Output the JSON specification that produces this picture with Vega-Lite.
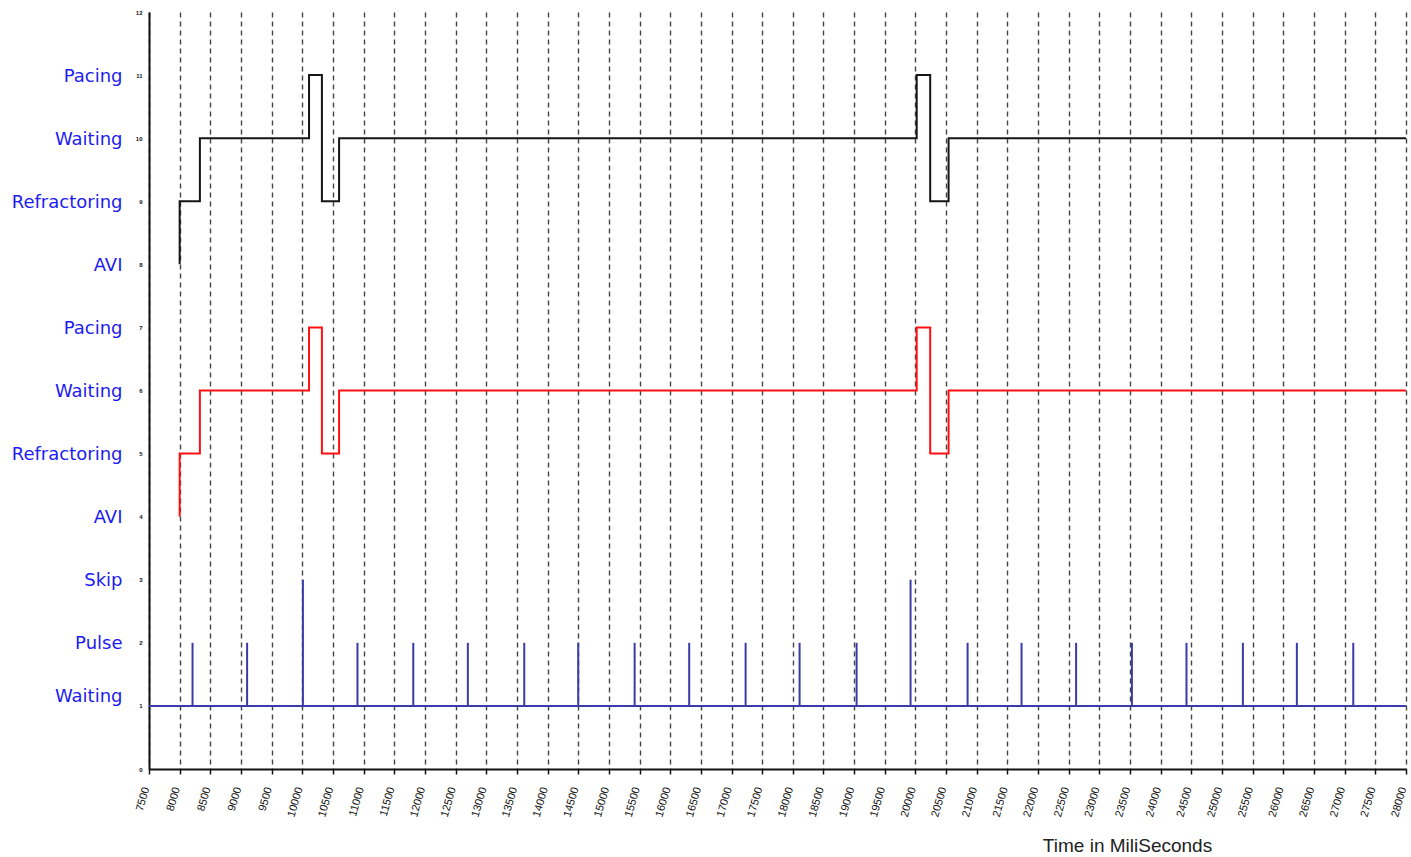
{
  "$schema": "https://vega.github.io/schema/vega-lite/v6.json",
  "autosize": {"type": "none"},
  "padding": {"left": 149, "top": 12, "right": 5, "bottom": 88},
  "width": 1257,
  "height": 757,
  "background": "white",
  "config": {
    "view": {"stroke": null},
    "axis": {"labelFont": "Liberation Sans", "titleFont": "Liberation Sans"}
  },
  "datasets": {
    "states": [
      {"trace": "upper", "i": 0, "t": 8000, "v": 8},
      {"trace": "upper", "i": 1, "t": 8000, "v": 9},
      {"trace": "upper", "i": 2, "t": 8330, "v": 10},
      {"trace": "upper", "i": 3, "t": 10110, "v": 11},
      {"trace": "upper", "i": 4, "t": 10320, "v": 9},
      {"trace": "upper", "i": 5, "t": 10600, "v": 10},
      {"trace": "upper", "i": 6, "t": 20020, "v": 11},
      {"trace": "upper", "i": 7, "t": 20240, "v": 9},
      {"trace": "upper", "i": 8, "t": 20540, "v": 10},
      {"trace": "upper", "i": 9, "t": 28000, "v": 10},
      {"trace": "lower", "i": 0, "t": 8000, "v": 4},
      {"trace": "lower", "i": 1, "t": 8000, "v": 5},
      {"trace": "lower", "i": 2, "t": 8330, "v": 6},
      {"trace": "lower", "i": 3, "t": 10110, "v": 7},
      {"trace": "lower", "i": 4, "t": 10320, "v": 5},
      {"trace": "lower", "i": 5, "t": 10600, "v": 6},
      {"trace": "lower", "i": 6, "t": 20020, "v": 7},
      {"trace": "lower", "i": 7, "t": 20240, "v": 5},
      {"trace": "lower", "i": 8, "t": 20540, "v": 6},
      {"trace": "lower", "i": 9, "t": 28000, "v": 6}
    ],
    "baseline": [
      {"t": 7500, "t2": 28000, "v": 1}
    ],
    "pulses": [
      {"t": 8210, "v": 2},
      {"t": 9100, "v": 2},
      {"t": 10010, "v": 3},
      {"t": 10900, "v": 2},
      {"t": 11810, "v": 2},
      {"t": 12700, "v": 2},
      {"t": 13620, "v": 2},
      {"t": 14500, "v": 2},
      {"t": 15420, "v": 2},
      {"t": 16310, "v": 2},
      {"t": 17230, "v": 2},
      {"t": 18110, "v": 2},
      {"t": 19040, "v": 2},
      {"t": 19920, "v": 3},
      {"t": 20850, "v": 2},
      {"t": 21730, "v": 2},
      {"t": 22620, "v": 2},
      {"t": 23530, "v": 2},
      {"t": 24420, "v": 2},
      {"t": 25340, "v": 2},
      {"t": 26220, "v": 2},
      {"t": 27140, "v": 2}
    ]
  },
  "encoding": {
    "x": {
      "field": "t",
      "type": "quantitative",
      "scale": {"domain": [7500, 28000], "nice": false, "zero": false},
      "axis": {
        "orient": "bottom",
        "values": [7500, 8000, 8500, 9000, 9500, 10000, 10500, 11000, 11500, 12000, 12500, 13000, 13500, 14000, 14500, 15000, 15500, 16000, 16500, 17000, 17500, 18000, 18500, 19000, 19500, 20000, 20500, 21000, 21500, 22000, 22500, 23000, 23500, 24000, 24500, 25000, 25500, 26000, 26500, 27000, 27500, 28000],
        "format": "d",
        "labelAngle": -74,
        "labelAlign": "right",
        "labelBaseline": "middle",
        "labelFontSize": 11,
        "labelColor": "#111111",
        "labelPadding": 13,
        "labelOffset": -3,
        "labelOverlap": false,
        "labelFlush": false,
        "domainColor": "#111111",
        "domainWidth": 2,
        "tickColor": "#111111",
        "tickSize": 5,
        "tickWidth": 1.5,
        "grid": true,
        "gridColor": "#444444",
        "gridDash": [5, 4],
        "gridWidth": 1.4,
        "gridOpacity": 1,
        "title": "Time in MiliSeconds",
        "titleFontSize": 19,
        "titleFontWeight": "normal",
        "titleColor": "#222222",
        "titleBaseline": "middle",
        "titleAlign": "center",
        "titleX": 978,
        "titleY": 76
      }
    }
  },
  "layer": [
    {
      "data": {"name": "states"},
      "transform": [{"filter": "datum.trace === 'upper'"}],
      "mark": {"type": "line", "interpolate": "step-after", "color": "#151515", "strokeWidth": 2},
      "encoding": {
        "order": {"field": "i", "type": "quantitative"},
        "y": {
          "field": "v",
          "type": "quantitative",
          "scale": {"domain": [0, 12], "nice": false},
          "axis": {
            "orient": "left",
            "values": [0, 1, 2, 3, 4, 5, 6, 7, 8, 9, 10, 11, 12],
            "format": "d",
            "labelFontSize": 6,
            "labelFontWeight": "bold",
            "labelColor": "#111111",
            "labelPadding": 7,
            "ticks": false,
            "tickSize": 0,
            "domainColor": "#111111",
            "domainWidth": 2,
            "grid": false,
            "title": null
          }
        }
      }
    },
    {
      "data": {"name": "states"},
      "transform": [{"filter": "datum.trace === 'lower'"}],
      "mark": {"type": "line", "interpolate": "step-after", "color": "#ff1010", "strokeWidth": 2},
      "encoding": {
        "order": {"field": "i", "type": "quantitative"},
        "y": {"field": "v", "type": "quantitative", "axis": null}
      }
    },
    {
      "data": {"name": "baseline"},
      "mark": {"type": "rule", "color": "#3a3aa8", "strokeWidth": 2},
      "encoding": {
        "x2": {"field": "t2"},
        "y": {
          "field": "v",
          "type": "quantitative",
          "axis": {
            "orient": "left",
            "values": [1, 2, 3, 4, 5, 6, 7, 8, 9, 10, 11],
            "labelExpr": "['', 'Waiting', 'Pulse', 'Skip', 'AVI', 'Refractoring', 'Waiting', 'Pacing', 'AVI', 'Refractoring', 'Waiting', 'Pacing'][datum.value]",
            "labelFont": "DejaVu Sans",
            "labelFontSize": 18,
            "labelColor": "#1c1cf2",
            "labelPadding": 27,
            "labelOffset": {"condition": {"test": "datum.value === 1", "value": -9}, "value": 1},
            "labelBaseline": "middle",
            "ticks": false,
            "tickSize": 0,
            "domain": false,
            "grid": false,
            "title": null
          }
        }
      }
    },
    {
      "data": {"name": "pulses"},
      "mark": {"type": "rule", "color": "#3a3aa8", "strokeWidth": 2},
      "encoding": {
        "y": {"field": "v", "type": "quantitative", "axis": null},
        "y2": {"datum": 1}
      }
    }
  ],
  "resolve": {"axis": {"y": "independent"}}
}
